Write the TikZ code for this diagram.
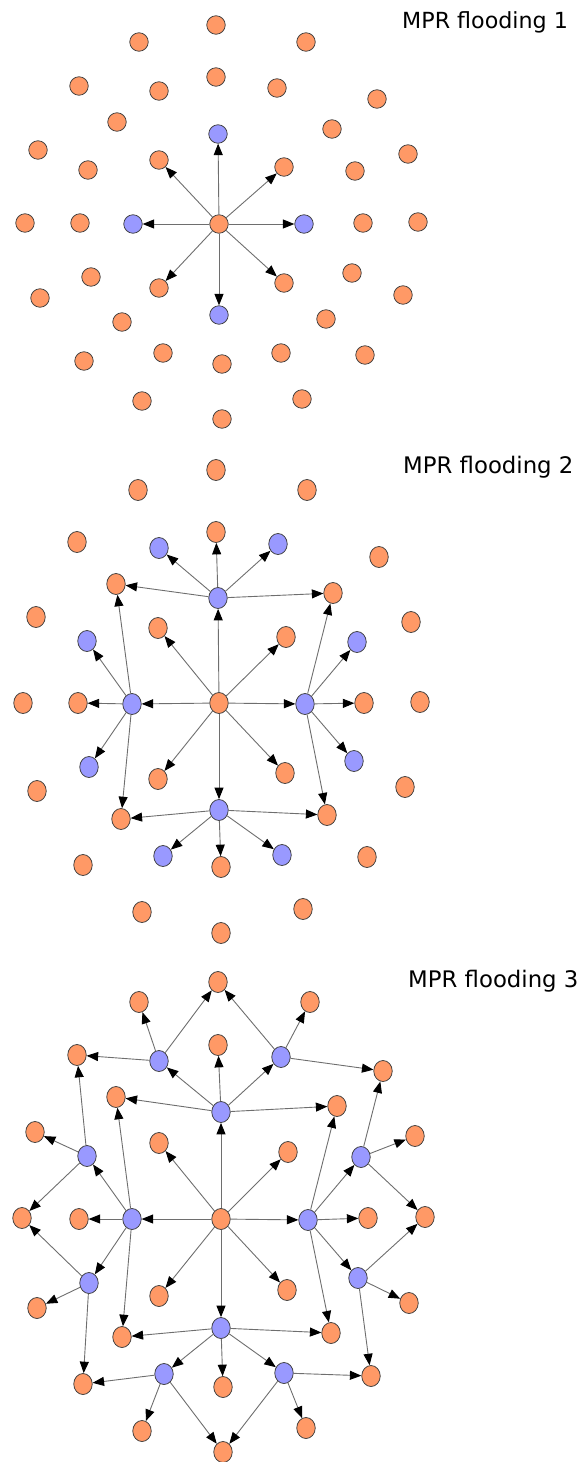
\documentclass[tikz,border=0pt]{standalone}
\usepackage{fontspec}
\setmainfont{DejaVu Sans}
\usetikzlibrary{arrows.meta,shapes.geometric}
\definecolor{orng}{RGB}{255,153,102}
\definecolor{blu}{RGB}{153,153,255}
\definecolor{bord}{RGB}{60,60,60}
\definecolor{edgec}{RGB}{110,110,110}
\begin{document}
\begin{tikzpicture}[x=1pt,y=-1pt,
  onodeA/.style={circle,draw=bord,line width=0.75pt,fill=orng,minimum size=18.5pt,inner sep=0pt},
  bnodeA/.style={onodeA,fill=blu},
  onodeB/.style={ellipse,draw=bord,line width=0.75pt,fill=orng,minimum width=18.5pt,minimum height=21pt,inner sep=0pt},
  bnodeB/.style={onodeB,fill=blu},
  edge/.style={draw=edgec,line width=0.9pt,-{Triangle[length=11.5pt,width=9pt,color=black]}},
  ttl/.style={anchor=base west,inner sep=0pt,text=black}]
\useasboundingbox (0,0) rectangle (583,1462);
% ---------- panel 1 ----------
\foreach \n/\x/\y/\s in {
 a1/216/25/o, a2/139/42/o, a3/306/42/o, a4/79/86/o, a5/159/91/o, a6/216/77/o,
 a7/277/88/o, a8/377/99/o, a9/117/122/o, a10/332/129/o, a11/218/134/b, a12/38/150/o,
 a13/408/154/o, a14/88/170/o, a15/159/160/o, a16/284/167/o, a17/355/171/o,
 a18/25/223/o, a19/80/223/o, a20/133/224/b, a21/219/224/o, a22/304/224/b,
 a23/363/223/o, a24/418/222/o, a25/91/277/o, a26/40/298/o, a27/159/288/o,
 a28/284/283/o, a29/352/273/o, a30/403/295/o, a31/219/315/b, a32/122/322/o,
 a33/326/319/o, a34/163/353/o, a35/84/361/o, a36/222/364/o, a37/281/353/o,
 a38/365/355/o, a39/142/401/o, a40/302/399/o, a41/222/419/o}
  \node[\s nodeA] (\n) at (\x,\y) {};
\foreach \t in {a11,a20,a22,a31,a15,a16,a27,a28}
  \draw[edge] (a21) -- (\t);
\node[ttl,font=\fontsize{22.2}{26}\selectfont] (t1) at (402,28.3) {MPR flooding 1};
% ---------- panel 2 ----------
\foreach \n/\x/\y/\s in {
 b1/216/470/o, b2/138/490/o, b3/307/490/o, b4/77/542/o, b5/159/548/b, b6/216/532/o,
 b7/278/544/b, b8/379/557/o, b9/116/584/o, b10/333/593/o, b11/218/598/b, b12/36/617/o,
 b13/411/622/o, b14/87/641/b, b15/158/628/o, b16/286/637/o, b17/357/642/b,
 b18/23/703/o, b19/78/703/o, b20/132/704/b, b21/219/703/o, b22/305/704/b,
 b23/364/703/o, b24/420/702/o, b25/89/767/b, b26/37/791/o, b27/158/779/o,
 b28/285/773/o, b29/354/761/b, b30/405/787/o, b31/219/810/b, b32/121/819/o,
 b33/327/815/o, b34/163/856/b, b35/83/865/o, b36/221/867/o, b37/282/855/b,
 b38/367/857/o, b39/142/912/o, b40/303/909/o, b41/221/933/o}
  \node[\s nodeB] (\n) at (\x,\y) {};
\foreach \s/\t in {
 b21/b11, b21/b20, b21/b22, b21/b31, b21/b15, b21/b16, b21/b27, b21/b28,
 b11/b6, b11/b5, b11/b7, b11/b9, b11/b10,
 b20/b14, b20/b19, b20/b25, b20/b9, b20/b32,
 b22/b10, b22/b17, b22/b23, b22/b29, b22/b33,
 b31/b32, b31/b34, b31/b36, b31/b37, b31/b33}
  \draw[edge] (\s) -- (\t);
\node[ttl,font=\fontsize{22.8}{26}\selectfont] (t2) at (403,473.5) {MPR flooding 2};
% ---------- panel 3 ----------
\foreach \n/\x/\y/\s in {
 c1/218/982/o, c2/139/1002/o, c3/310/1002/o, c4/77/1055/o, c5/159/1061/b, c6/218/1045/o,
 c7/281/1057/b, c8/383/1071/o, c9/116/1097/o, c10/337/1106/o, c11/221/1112/b, c12/35/1132/o,
 c13/415/1136/o, c14/87/1156/b, c15/159/1143/o, c16/288/1152/o, c17/361/1157/b,
 c18/22/1218/o, c19/79/1219/o, c20/132/1219/b, c21/221/1219/o, c22/308/1220/b,
 c23/368/1218/o, c24/425/1217/o, c25/89/1283/b, c26/37/1308/o, c27/159/1296/o,
 c28/287/1290/o, c29/358/1278/b, c30/409/1303/o, c31/221/1328/b, c32/122/1337/o,
 c33/331/1333/o, c34/164/1374/b, c35/83/1384/o, c36/223/1387/o, c37/284/1373/b,
 c38/371/1376/o, c39/142/1431/o, c40/306/1428/o, c41/223/1452/o}
  \node[\s nodeB] (\n) at (\x,\y) {};
\foreach \s/\t in {
 c21/c11, c21/c20, c21/c22, c21/c31, c21/c15, c21/c16, c21/c27, c21/c28,
 c11/c6, c11/c5, c11/c7, c11/c9, c11/c10,
 c20/c14, c20/c19, c20/c25, c20/c9, c20/c32,
 c22/c10, c22/c17, c22/c23, c22/c29, c22/c33,
 c31/c32, c31/c34, c31/c36, c31/c37, c31/c33,
 c5/c2, c5/c1, c5/c4,
 c7/c1, c7/c3, c7/c8,
 c14/c12, c14/c4, c14/c18,
 c25/c18, c25/c26, c25/c35,
 c17/c8, c17/c13, c17/c24,
 c29/c24, c29/c30, c29/c38,
 c34/c35, c34/c39, c34/c41,
 c37/c41, c37/c40, c37/c38}
  \draw[edge] (\s) -- (\t);
\node[ttl,font=\fontsize{22.8}{26}\selectfont] (t3) at (408,987) {MPR flooding 3};
\end{tikzpicture}
\end{document}
